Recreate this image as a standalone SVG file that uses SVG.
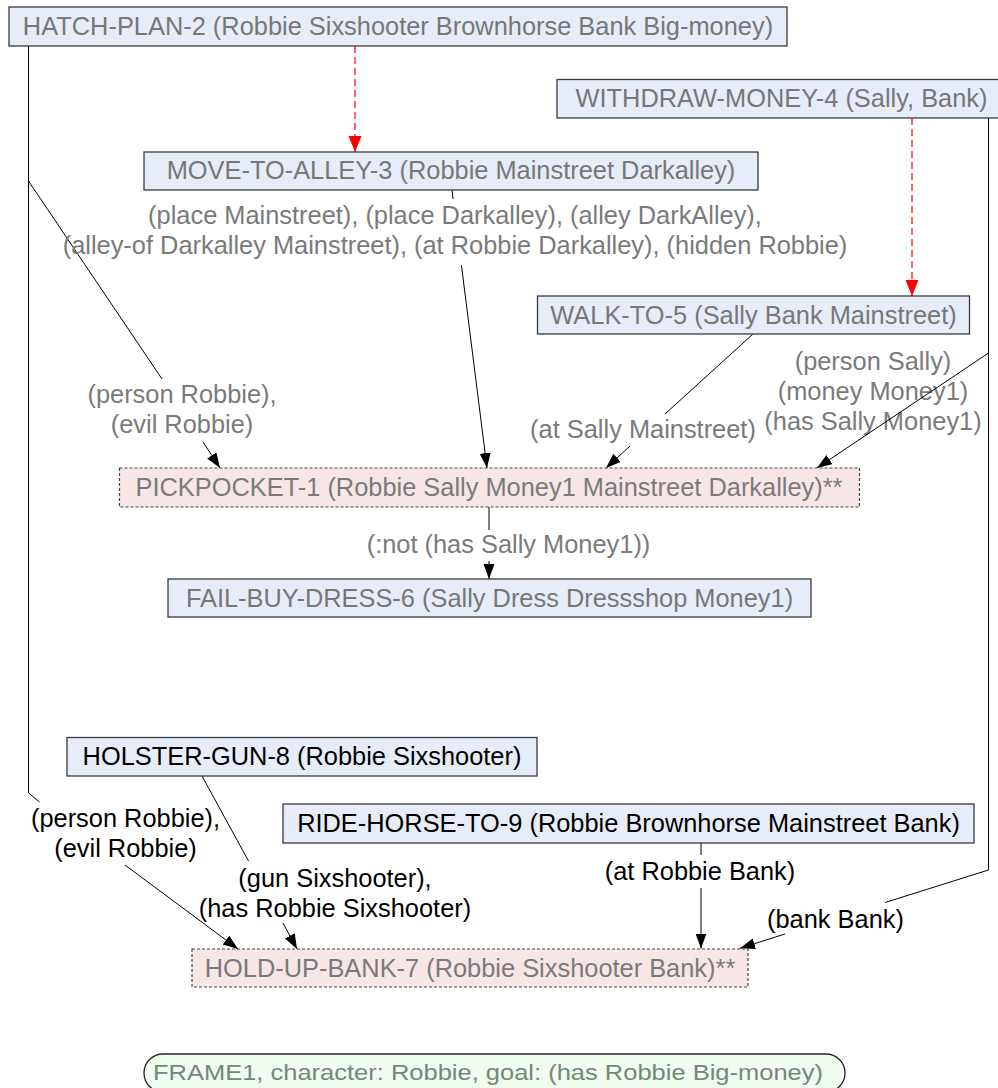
<svg xmlns="http://www.w3.org/2000/svg" width="998" height="1088" viewBox="0 0 998 1088">
  <defs>
    <style>
      text { font-family: "Liberation Sans", Arial, sans-serif; font-size: 25.4px; }
      .act rect { fill: #e7edf8; stroke: #3a3a3a; stroke-width: 1.3; }
      .act text { fill: #777; text-anchor: middle; }
      .act.dark text { fill: #000; }
      .goal rect { fill: #f6e7e6; stroke: #444; stroke-width: 1.2; stroke-dasharray: 3 2; }
      .goal text { fill: #7a7a7a; text-anchor: middle; }
      .frame rect { fill: #f0fdf0; stroke: #222; stroke-width: 1.3; }
      .frame text { fill: #728a73; }
      .edge { fill: none; stroke: #000; stroke-width: 1; }
      .plan { fill: none; stroke: #f33; stroke-width: 1.5; stroke-dasharray: 7 4; }
      .lbl { text-anchor: middle; fill: #7a7a7a; }
      .lbl.dark { fill: #000; }
    </style>
    <marker id="arr" markerUnits="userSpaceOnUse" markerWidth="16" markerHeight="12" refX="15" refY="5.5" orient="auto">
      <path d="M0,0 L15,5.5 L0,11 z" fill="#000"/>
    </marker>
    <marker id="arrRed" markerUnits="userSpaceOnUse" markerWidth="17" markerHeight="14" refX="16" refY="6.5" orient="auto">
      <path d="M0,0 L16,6.5 L0,13 z" fill="#f00"/>
    </marker>
  </defs>

  <!-- connectors -->
  <g id="connectors">
    <path class="plan" d="M355,46 L355,152" marker-end="url(#arrRed)"/>
    <path class="plan" d="M912,118 L912,296" marker-end="url(#arrRed)"/>

    <!-- HATCH-PLAN-2 -> PICKPOCKET-1 -->
    <path class="edge" d="M28.5,46 L28.5,181 L162,379"/>
    <path class="edge" d="M203,442 L220,468" marker-end="url(#arr)"/>
    <text class="lbl" x="182" y="402.5">(person Robbie),</text>
    <text class="lbl" x="182" y="433">(evil Robbie)</text>

    <!-- MOVE-TO-ALLEY-3 -> PICKPOCKET-1 -->
    <path class="edge" d="M452,190 L453.1,199"/>
    <path class="edge" d="M461.4,265 L487,468" marker-end="url(#arr)"/>
    <text class="lbl" x="455" y="223.5">(place Mainstreet), (place Darkalley), (alley DarkAlley),</text>
    <text class="lbl" x="455" y="254">(alley-of Darkalley Mainstreet), (at Robbie Darkalley), (hidden Robbie)</text>

    <!-- WALK-TO-5 -> PICKPOCKET-1 -->
    <path class="edge" d="M753,334 L665,414"/>
    <path class="edge" d="M630,446 L606,468" marker-end="url(#arr)"/>
    <text class="lbl" x="643" y="437.5">(at Sally Mainstreet)</text>

    <!-- WITHDRAW-MONEY-4 -> PICKPOCKET-1 -->
    <text class="lbl" x="873" y="369.5">(person Sally)</text>
    <text class="lbl" x="873" y="399.5">(money Money1)</text>
    <text class="lbl" x="873" y="429.5">(has Sally Money1)</text>
    <path class="edge" d="M988.5,118 L988.5,353 L817,468" marker-end="url(#arr)"/>

    <!-- PICKPOCKET-1 -> FAIL-BUY-DRESS-6 -->
    <path class="edge" d="M489,507 L489,530"/>
    <path class="edge" d="M489,561 L489,579" marker-end="url(#arr)"/>
    <text class="lbl" x="508.5" y="553">(:not (has Sally Money1))</text>

    <!-- HATCH-PLAN-2 -> HOLD-UP-BANK-7 -->
    <path class="edge" d="M28.5,46 L28.5,793 L39.5,802"/>
    <path class="edge" d="M125,865 L238,949" marker-end="url(#arr)"/>
    <text class="lbl dark" x="125.5" y="826.5">(person Robbie),</text>
    <text class="lbl dark" x="125.5" y="857">(evil Robbie)</text>

    <!-- HOLSTER-GUN-8 -> HOLD-UP-BANK-7 -->
    <path class="edge" d="M202,776 L248.5,861"/>
    <path class="edge" d="M283,923 L297,949" marker-end="url(#arr)"/>
    <text class="lbl dark" x="335" y="886.5">(gun Sixshooter),</text>
    <text class="lbl dark" x="335" y="916.5">(has Robbie Sixshooter)</text>

    <!-- RIDE-HORSE-TO-9 -> HOLD-UP-BANK-7 -->
    <path class="edge" d="M701,843 L701,855"/>
    <path class="edge" d="M701,888 L701,948.5" marker-end="url(#arr)"/>
    <text class="lbl dark" x="700" y="879.5">(at Robbie Bank)</text>

    <!-- WITHDRAW-MONEY-4 -> HOLD-UP-BANK-7 -->
    <path class="edge" d="M988.5,353 L988.5,870 L885,902.5"/>
    <path class="edge" d="M785,934 L740,948.3" marker-end="url(#arr)"/>
    <text class="lbl dark" x="835.5" y="927.5">(bank Bank)</text>
  </g>

  <!-- nodes -->
  <g id="hatch-plan-2" class="act">
    <rect x="9" y="7" width="778" height="39"/>
    <text x="398" y="35">HATCH-PLAN-2 (Robbie Sixshooter Brownhorse Bank Big-money)</text>
  </g>
  <g id="withdraw-money-4" class="act">
    <rect x="557" y="79.5" width="449" height="38.5"/>
    <text x="781.5" y="107">WITHDRAW-MONEY-4 (Sally, Bank)</text>
  </g>
  <g id="move-to-alley-3" class="act">
    <rect x="144" y="152" width="614" height="38"/>
    <text x="451" y="179">MOVE-TO-ALLEY-3 (Robbie Mainstreet Darkalley)</text>
  </g>
  <g id="walk-to-5" class="act">
    <rect x="537.5" y="296" width="432" height="38"/>
    <text x="753.5" y="323.5">WALK-TO-5 (Sally Bank Mainstreet)</text>
  </g>
  <g id="pickpocket-1" class="goal">
    <rect x="119.5" y="468" width="740" height="39"/>
    <text x="489" y="496">PICKPOCKET-1 (Robbie Sally Money1 Mainstreet Darkalley)**</text>
  </g>
  <g id="fail-buy-dress-6" class="act">
    <rect x="168" y="579" width="643" height="38"/>
    <text x="489.5" y="606.5">FAIL-BUY-DRESS-6 (Sally Dress Dressshop Money1)</text>
  </g>
  <g id="holster-gun-8" class="act dark">
    <rect x="67" y="737.5" width="470" height="38.5"/>
    <text x="302" y="765">HOLSTER-GUN-8 (Robbie Sixshooter)</text>
  </g>
  <g id="ride-horse-to-9" class="act dark">
    <rect x="283" y="804" width="691" height="39"/>
    <text x="628.5" y="832">RIDE-HORSE-TO-9 (Robbie Brownhorse Mainstreet Bank)</text>
  </g>
  <g id="hold-up-bank-7" class="goal">
    <rect x="192" y="949" width="556" height="38"/>
    <text x="470" y="976.5">HOLD-UP-BANK-7 (Robbie Sixshooter Bank)**</text>
  </g>
  <g id="frame1" class="frame">
    <rect x="144" y="1054" width="701" height="38" rx="19" ry="19"/>
    <text transform="translate(153,1080) scale(1,0.86)" x="0" y="0" textLength="670" lengthAdjust="spacingAndGlyphs">FRAME1, character: Robbie, goal: (has Robbie Big-money)</text>
  </g>
</svg>
